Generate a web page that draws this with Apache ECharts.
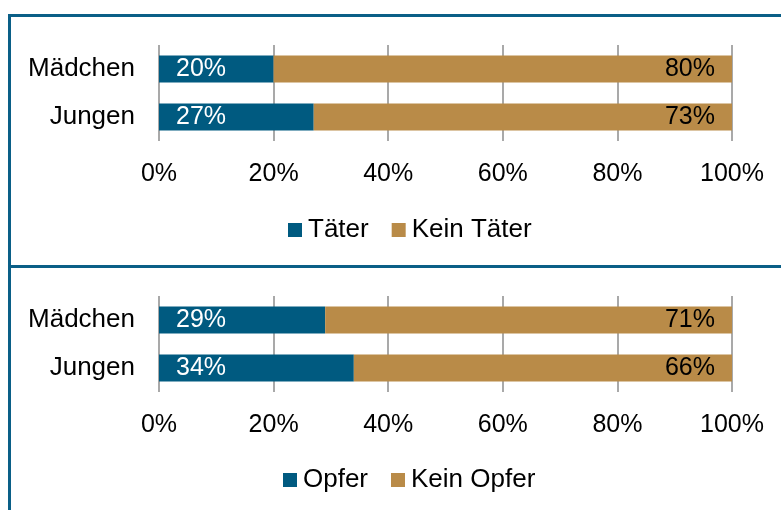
<!DOCTYPE html>
<html>
<head>
<meta charset="utf-8">
<script src="https://cdn.jsdelivr.net/npm/echarts@6/dist/echarts.min.js"></script>
<style>
  html, body { margin: 0; padding: 0; background: #fff; }
  #chart { width: 781px; height: 510px; }
</style>
</head>
<body>
<div id="chart"></div>
<script>
const categories = ['Mädchen', 'Jungen'];
const taeter = [20, 27];
const keinTaeter = [80, 73];
const opfer = [29, 34];
const keinOpfer = [71, 66];
const xTicks = [0, 20, 40, 60, 80, 100];

const blue = '#005a80';
const gold = '#b98b48';
const frame = '#0a5f87';
const font = 'Arial, "Liberation Sans", sans-serif';

function xAxisFor(idx) {
  return {
    type: 'value',
    gridIndex: idx,
    min: xTicks[0],
    max: xTicks[xTicks.length - 1],
    interval: xTicks[1] - xTicks[0],
    axisLine: { show: false },
    axisTick: { show: false },
    axisLabel: { formatter: '{value}%', color: '#000', fontSize: 25, fontFamily: font, margin: 21 },
    splitLine: { lineStyle: { color: '#8c8c8c', width: 1.5 } }
  };
}

function yAxisFor(idx) {
  return {
    type: 'category',
    gridIndex: idx,
    inverse: true,
    data: categories,
    axisLine: { show: false },
    axisTick: { show: false },
    axisLabel: { color: '#000', fontSize: 26, fontFamily: font, margin: 24 }
  };
}

function barSeries(name, data, color, idx, pos, txtColor) {
  return {
    name: name,
    type: 'bar',
    stack: 's' + idx,
    xAxisIndex: idx,
    yAxisIndex: idx,
    data: data,
    barWidth: 27,
    itemStyle: { color: color },
    label: {
      show: true,
      position: pos,
      distance: 17,
      formatter: '{c}%',
      color: txtColor,
      fontSize: 25,
      fontFamily: font
    }
  };
}

const legendBase = {
  icon: 'rect',
  itemWidth: 14,
  itemHeight: 14,
  itemGap: 23,
  textStyle: { color: '#000', fontSize: 26, fontFamily: font, padding: [0, 0, 0, 1] }
};

const chart = echarts.init(document.getElementById('chart'));
chart.setOption({
  animation: false,
  grid: [
    { left: 159, right: 49, top: 45, height: 96 },
    { left: 159, right: 49, top: 296, height: 96 }
  ],
  xAxis: [xAxisFor(0), xAxisFor(1)],
  yAxis: [yAxisFor(0), yAxisFor(1)],
  legend: [
    Object.assign({}, legendBase, { left: 283, top: 212, data: ['Täter', 'Kein Täter'] }),
    Object.assign({}, legendBase, { left: 278, top: 462, data: ['Opfer', 'Kein Opfer'] })
  ],
  series: [
    barSeries('Täter', taeter, blue, 0, 'insideLeft', '#fff'),
    barSeries('Kein Täter', keinTaeter, gold, 0, 'insideRight', '#000'),
    barSeries('Opfer', opfer, blue, 1, 'insideLeft', '#fff'),
    barSeries('Kein Opfer', keinOpfer, gold, 1, 'insideRight', '#000')
  ],
  graphic: [
    { type: 'line', shape: { x1: 8, y1: 15.5, x2: 781, y2: 15.5 }, style: { stroke: frame, lineWidth: 3 } },
    { type: 'line', shape: { x1: 9.5, y1: 14, x2: 9.5, y2: 510 }, style: { stroke: frame, lineWidth: 3 } },
    { type: 'line', shape: { x1: 8, y1: 266.5, x2: 781, y2: 266.5 }, style: { stroke: frame, lineWidth: 3 } }
  ]
});
</script>
</body>
</html>
